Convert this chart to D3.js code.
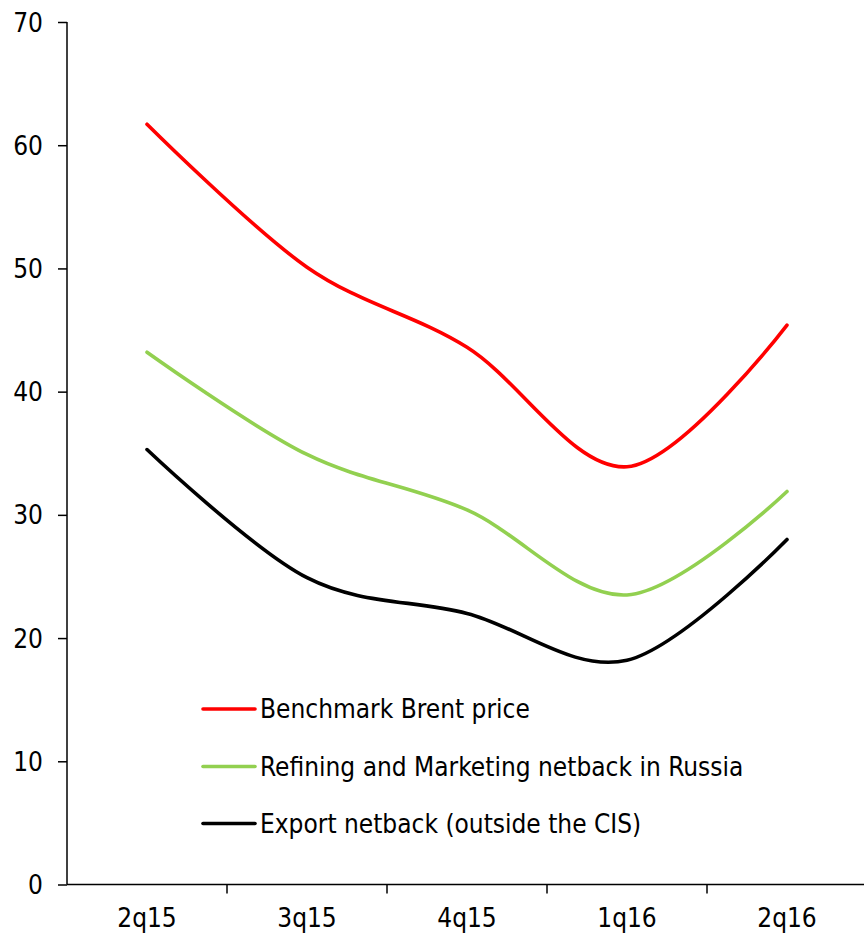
<!DOCTYPE html>
<html><head><meta charset="utf-8">
<script src="https://cdn.jsdelivr.net/npm/d3@7"></script>
<style>
html,body{margin:0;padding:0;background:#fff;}
svg text{font-family:"DejaVu Sans Condensed","Noto Sans",sans-serif;fill:#000;}
</style>
</head><body>
<svg id="chart" width="864" height="936"></svg>
<script>
const categories = ["2q15","3q15","4q15","1q16","2q16"];
const brent = [61.7, 50.1, 43.6, 33.9, 45.4];
const refining = [43.2, 34.9, 30.4, 23.5, 31.9];
const exportNetback = [35.3, 24.9, 22.0, 18.2, 28.0];
const yTicks = [0,10,20,30,40,50,60,70];
const seriesNames = ["Benchmark Brent price","Refining and Marketing netback in Russia","Export netback (outside the CIS)"];
const seriesColors = ["#ff0000","#92d050","#000000"];
const seriesData = [brent, refining, exportNetback];

const svg = d3.select("#chart");
const x = d3.scaleBand().domain(categories).range([67, 867]);
const y = d3.scaleLinear().domain([0,70]).range([884.5, 22]);

// y axis
const yAxis = svg.append("g").attr("transform","translate(67,0)")
  .call(d3.axisLeft(y).tickValues(yTicks).tickSize(9).tickPadding(15).tickFormat(d3.format("d")));
yAxis.select(".domain").attr("d", `M0,${y(70)}V${y(0)}`).attr("stroke","#000").attr("stroke-width",1.5);
yAxis.selectAll(".tick line").attr("stroke","#000").attr("stroke-width",1.5);
yAxis.selectAll("text").attr("font-size",26).attr("dy","0.35em");

// x axis
const xAxis = svg.append("g").attr("transform",`translate(0,${y(0)})`)
  .call(d3.axisBottom(x).tickSize(0).tickPadding(24));
xAxis.select(".domain").attr("d","M67,0H864").attr("stroke","#000").attr("stroke-width",1.5);
xAxis.selectAll("text").attr("font-size",26).attr("dy","0.71em");
// boundary ticks between bands
const bounds = categories.slice(1).map(c => x(c));
xAxis.selectAll(".bt").data(bounds).enter().append("line")
  .attr("x1",d=>d).attr("x2",d=>d).attr("y1",0).attr("y2",9)
  .attr("stroke","#000").attr("stroke-width",1.5);

// lines
const line = d3.line()
  .x((d,i)=>x(categories[i]) + x.bandwidth()/2)
  .y(d=>y(d))
  .curve(d3.curveCatmullRom.alpha(0));
seriesData.forEach((s,k)=>{
  svg.append("path").datum(s).attr("d",line)
    .attr("fill","none").attr("stroke",seriesColors[k]).attr("stroke-width",3.6)
    .attr("stroke-linecap","round").attr("stroke-linejoin","round");
});

// legend
const legY = [709, 766.5, 823.5];
seriesNames.forEach((n,k)=>{
  svg.append("line").attr("x1",203).attr("x2",255).attr("y1",legY[k]).attr("y2",legY[k])
    .attr("stroke",seriesColors[k]).attr("stroke-width",3.6).attr("stroke-linecap","round");
  svg.append("text").attr("x",260).attr("y",legY[k]).attr("dy","0.35em")
    .attr("font-size",26).text(n);
});
</script>
</body></html>
